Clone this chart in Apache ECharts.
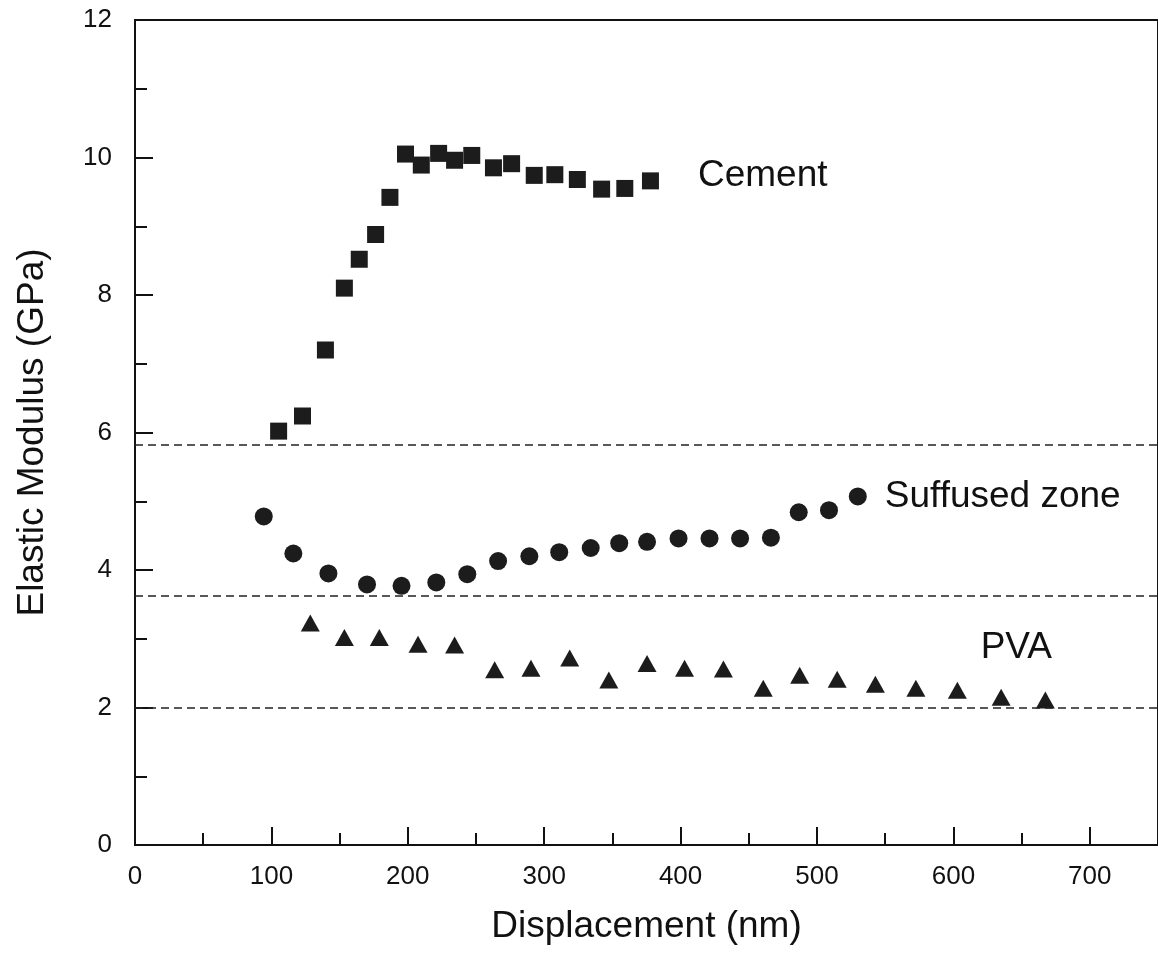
<!DOCTYPE html>
<html>
<head>
<meta charset="utf-8">
<script src="https://cdn.jsdelivr.net/npm/echarts@6/dist/echarts.min.js"></script>
<style>
html,body{margin:0;padding:0;background:#fff;}
#chart{width:1158px;height:957px;}
</style>
</head>
<body>
<div id="chart"></div>
<script>
// ---- data ----
var seriesNames = ['Cement', 'Suffused zone', 'PVA'];
var cementX = [105.3,122.8,139.6,153.5,164.4,176.4,186.9,198.3,209.9,222.6,234.3,246.9,262.8,276.1,292.7,307.8,324.3,342.1,359.1,377.9];
var cementY = [6.02,6.24,7.20,8.10,8.52,8.88,9.42,10.05,9.89,10.06,9.96,10.03,9.85,9.91,9.74,9.75,9.68,9.54,9.55,9.66];
var zoneX = [94.4,116.1,141.8,170.1,195.4,220.9,243.6,266.2,289.1,311.0,334.1,355.0,375.4,398.5,421.2,443.6,466.2,486.6,508.8,529.9];
var zoneY = [4.78,4.24,3.95,3.79,3.77,3.82,3.94,4.13,4.20,4.26,4.32,4.39,4.41,4.46,4.46,4.46,4.47,4.84,4.87,5.07];
var pvaX = [128.5,153.5,179.1,207.5,234.3,263.7,290.3,318.7,347.4,375.4,402.9,431.4,460.6,487.3,514.8,542.8,572.5,602.9,635.0,667.4];
var pvaY = [3.23,3.02,3.02,2.92,2.91,2.55,2.57,2.72,2.40,2.64,2.57,2.56,2.28,2.47,2.41,2.34,2.28,2.25,2.15,2.11];
var refLevels = [5.82, 3.63, 2.0];
var xTitle = 'Displacement (nm)';
var yTitle = 'Elastic Modulus (GPa)';
var pvaLabelAnchor = [620, 2.87];

function pairs(xs, ys) { return xs.map(function (x, i) { return [x, ys[i]]; }); }

var FONT = '"Liberation Sans", Arial, Helvetica, sans-serif';
var INK = '#111';
var MARK = '#1c1c1c';

var chart = echarts.init(document.getElementById('chart'));

function endLabel(n, dist, off) {
  return {
    show: true,
    position: 'right',
    distance: dist,
    offset: off,
    fontFamily: FONT,
    fontSize: 37,
    color: INK,
    formatter: function (p) { return p.dataIndex === n - 1 ? p.seriesName : ''; }
  };
}

var option = {
  backgroundColor: '#fff',
  animation: false,
  grid: {
    left: 135, top: 20, width: 1027.5, height: 825,
    show: true, borderColor: INK, borderWidth: 2, backgroundColor: 'transparent'
  },
  xAxis: {
    type: 'value', min: 0, max: 750, interval: 100,
    name: xTitle, nameLocation: 'middle', nameGap: 63,
    nameTextStyle: { fontFamily: FONT, fontSize: 37, color: INK },
    axisLine: { show: true, onZero: false, lineStyle: { color: INK, width: 2 } },
    axisTick: { show: true, inside: true, length: 18, lineStyle: { color: INK, width: 2 } },
    minorTick: { show: true, splitNumber: 2, length: 12, lineStyle: { color: INK, width: 2 } },
    axisLabel: { showMaxLabel: false, margin: 19, fontFamily: FONT, fontSize: 26, color: INK },
    splitLine: { show: false }
  },
  yAxis: {
    type: 'value', min: 0, max: 12, interval: 2,
    name: yTitle, nameLocation: 'middle', nameGap: 84,
    nameTextStyle: { fontFamily: FONT, fontSize: 37, color: INK },
    axisLine: { show: true, onZero: false, lineStyle: { color: INK, width: 2 } },
    axisTick: { show: true, inside: true, length: 18, lineStyle: { color: INK, width: 2 } },
    minorTick: { show: true, splitNumber: 2, length: 12, lineStyle: { color: INK, width: 2 } },
    axisLabel: { margin: 23, fontFamily: FONT, fontSize: 26, color: INK },
    splitLine: { show: false }
  },
  series: [
    {
      name: seriesNames[0], type: 'scatter', symbol: 'rect', symbolSize: 17,
      itemStyle: { color: MARK, opacity: 1 },
      label: endLabel(cementX.length, 39, [0, -5]),
      data: pairs(cementX, cementY)
    },
    {
      name: seriesNames[1], type: 'scatter', symbol: 'circle', symbolSize: 18,
      itemStyle: { color: MARK, opacity: 1 },
      label: endLabel(zoneX.length, 18, [0, 0]),
      data: pairs(zoneX, zoneY)
    },
    {
      name: seriesNames[2], type: 'scatter', symbol: 'triangle', symbolSize: [19, 17],
      itemStyle: { color: MARK, opacity: 1 },
      data: pairs(pvaX, pvaY),
      markPoint: {
        symbol: 'circle', symbolSize: 0, silent: true,
        label: { show: true, position: 'right', distance: 0, fontFamily: FONT, fontSize: 37, color: INK,
                 formatter: seriesNames[2] },
        data: [{ coord: pvaLabelAnchor }]
      },
      markLine: {
        symbol: 'none', silent: true,
        label: { show: false },
        lineStyle: { color: '#222', width: 1.5, type: [8, 5] },
        data: refLevels.map(function (v) { return { yAxis: v }; })
      }
    }
  ]
};
chart.setOption(option);
</script>
</body>
</html>
